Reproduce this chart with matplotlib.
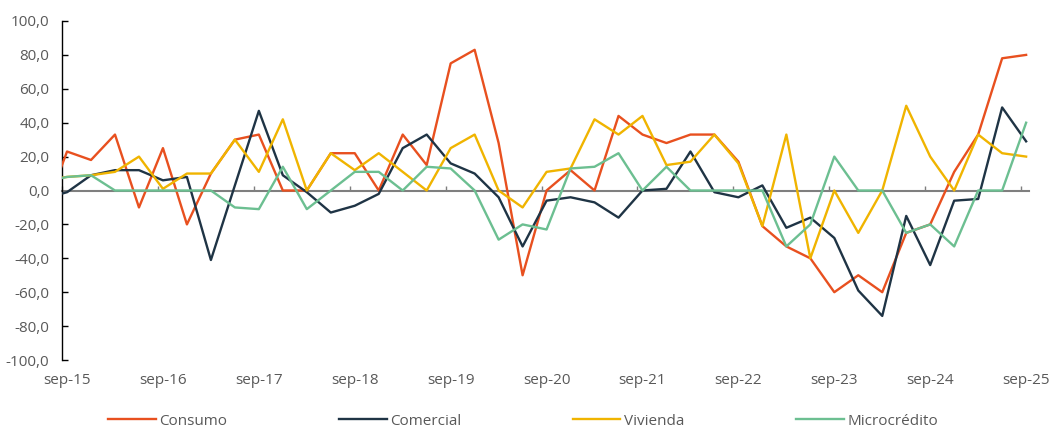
import matplotlib.pyplot as plt
import numpy as np
from matplotlib.ticker import FuncFormatter, FixedLocator

plt.rcParams['font.family'] = ['Open Sans', 'DejaVu Sans']

# quarterly series, jun-15 .. sep-25 (first point sits left of the axis and gets clipped)
quarters = np.arange(-1, 41)
year_labels = ['sep-15', 'sep-16', 'sep-17', 'sep-18', 'sep-19', 'sep-20',
               'sep-21', 'sep-22', 'sep-23', 'sep-24', 'sep-25']

consumo = [-15, 23, 18, 33, -10, 25, -20, 10, 30, 33, 0, 0, 22, 22, 0, 33, 15, 75, 83, 28,
           -50, 0, 12, 0, 44, 33, 28, 33, 33, 17, -21, -33, -40, -60, -50, -60, -25, -20,
           11, 33, 78, 80]
comercial = [-5, -1, 9, 12, 12, 6, 8, -41, 3, 47, 9, -1, -13, -9, -2, 25, 33, 16, 10, -4,
             -33, -6, -4, -7, -16, 0, 1, 23, -1, -4, 3, -22, -16, -28, -59, -74, -15, -44,
             -6, -5, 49, 29]
vivienda = [6, 8, 9, 11, 20, 1, 10, 10, 30, 11, 42, 0, 22, 12, 22, 11, 0, 25, 33, 0,
            -10, 11, 13, 42, 33, 44, 15, 17, 33, 16, -21, 33, -40, 0, -25, 0, 50, 20,
            0, 33, 22, 20]
microcredito = [5, 8, 9, 0, 0, 0, 0, 0, -10, -11, 14, -11, 0, 11, 11, 0, 14, 13, 0, -29,
                -20, -23, 13, 14, 22, 0, 14, 0, 0, 0, 0, -33, -20, 20, 0, 0, -25, -20,
                -33, 0, 0, 40]

series = [('Consumo', consumo, '#E8501F'),
          ('Comercial', comercial, '#1F3445'),
          ('Vivienda', vivienda, '#F0B400'),
          ('Microcrédito', microcredito, '#6CBF91')]

fig = plt.figure(figsize=(10.55, 4.28), dpi=100)
ax = fig.add_axes([62 / 1055, 1 - 360 / 428, 967 / 1055, 339 / 428])

for name, vals, col in series:
    ax.plot(quarters, vals, color=col, lw=1.7, label=name, zorder=3)

ax.set_xlim(-0.21, 40.12)
ax.set_ylim(-100, 100)

# y axis
ax.set_yticks(np.arange(-100, 101, 20))
ax.yaxis.set_major_formatter(FuncFormatter(lambda v, p: f'{v:.1f}'.replace('.', ',')))
ax.tick_params(axis='y', direction='in', length=4, width=1, color='black',
               labelsize=11, labelcolor='#595959', pad=9)
ax.spines['left'].set_color('black')
ax.spines['left'].set_linewidth(1)

# x axis: zero line from top spine, labels at the bottom
ax.spines['right'].set_visible(False)
ax.spines['bottom'].set_visible(False)
ax.spines['top'].set_position(('data', 0))
ax.spines['top'].set_color('#7F7F7F')
ax.spines['top'].set_linewidth(1.5)
ax.spines['top'].set_zorder(2)

ax.xaxis.set_major_locator(FixedLocator(np.arange(0, 41, 4)))
ax.set_xticklabels(year_labels)
ax.xaxis.set_minor_locator(FixedLocator(np.arange(0, 41, 4) - 0.21))
ax.tick_params(axis='x', which='major', bottom=True, top=False, length=0,
               labelbottom=True, labeltop=False, labelsize=11, labelcolor='#595959', pad=9)
ax.tick_params(axis='x', which='minor', bottom=False, top=True, direction='out',
               length=3.5, width=1, color='#7F7F7F')

fig.legend(loc='center', bbox_to_anchor=(0.496, 0.016), ncol=4, frameon=False,
           fontsize=11, handlelength=3.1, handletextpad=0.25, columnspacing=7.3,
           labelcolor='#595959')

fig.savefig('out.png', dpi=100)
